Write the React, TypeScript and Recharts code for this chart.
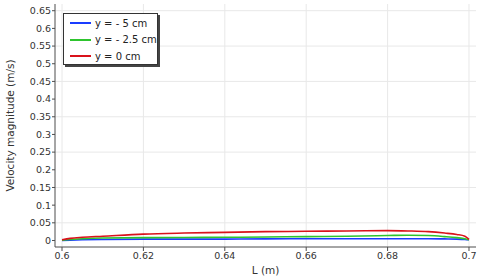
import React from 'react';
import { LineChart, Line, XAxis, YAxis, CartesianGrid } from 'recharts';

// Position along the line (m)
const positions = [0.6, 0.602, 0.605, 0.61, 0.62, 0.63, 0.64, 0.65, 0.66, 0.67, 0.68, 0.685, 0.69, 0.694, 0.697, 0.699, 0.7];

// Velocity magnitude (m/s) for each line
const yMinus5 = [0.0, 0.001, 0.002, 0.003, 0.004, 0.004, 0.004, 0.0045, 0.005, 0.005, 0.005, 0.005, 0.005, 0.0045, 0.004, 0.003, 0.002];
const yMinus25 = [0.001, 0.003, 0.005, 0.007, 0.008, 0.0085, 0.009, 0.01, 0.011, 0.012, 0.014, 0.015, 0.014, 0.011, 0.008, 0.005, 0.002];
const y0 = [0.002, 0.006, 0.009, 0.012, 0.018, 0.021, 0.023, 0.025, 0.026, 0.027, 0.028, 0.027, 0.025, 0.021, 0.017, 0.012, 0.003];

const seriesNames = ['y = - 5 cm', 'y = - 2.5 cm', 'y = 0 cm'];
const seriesColors = ['#1a3cff', '#2ec42e', '#d9121b'];

const xTicks = [0.6, 0.62, 0.64, 0.66, 0.68, 0.7];
const yTicks = [0, 0.05, 0.1, 0.15, 0.2, 0.25, 0.3, 0.35, 0.4, 0.45, 0.5, 0.55, 0.6, 0.65];

const data = positions.map((L, i) => ({
  L,
  s0: yMinus5[i],
  s1: yMinus25[i],
  s2: y0[i],
}));

const font = 'DejaVu Sans, sans-serif';
const axisColor = '#4d4d4d';
const tickStyle = { fontSize: 9.5, fill: '#333', fontFamily: font };

const App: React.FC = () => {
  return (
    <div style={{ position: 'absolute', left: 0, top: 0, width: 480, height: 276, background: '#fff' }}>
      <LineChart width={480} height={276} data={data} margin={{ top: 4, right: 4, bottom: 0, left: 0 }}>
        <CartesianGrid stroke="#e8e8e8" xAxisId="bottom" yAxisId="left" syncWithTicks />
        <XAxis
          xAxisId="bottom"
          type="number"
          dataKey="L"
          domain={[0.59828, 0.70172]}
          ticks={xTicks}
          allowDataOverflow
          stroke={axisColor}
          tickSize={4}
          tickMargin={1}
          tick={tickStyle}
          height={29}
          label={{ value: 'L (m)', position: 'insideBottom', offset: 2, style: { fontSize: 10.5, fill: '#333', fontFamily: font } }}
        />
        <XAxis
          xAxisId="top"
          orientation="top"
          type="number"
          dataKey="L"
          domain={[0.59828, 0.70172]}
          ticks={xTicks}
          allowDataOverflow
          stroke={axisColor}
          mirror
          tickSize={4}
          tickFormatter={() => ''}
          height={0}
        />
        <YAxis
          yAxisId="left"
          type="number"
          domain={[-0.0184, 0.669]}
          ticks={yTicks}
          allowDataOverflow
          stroke={axisColor}
          tickSize={3}
          tickMargin={1}
          tick={tickStyle}
          width={55}
          label={{ value: 'Velocity magnitude (m/s)', angle: -90, position: 'insideLeft', offset: 10, style: { fontSize: 10.5, fill: '#333', fontFamily: font, textAnchor: 'middle' } }}
        />
        <YAxis
          yAxisId="right"
          orientation="right"
          type="number"
          domain={[-0.0184, 0.669]}
          ticks={yTicks}
          allowDataOverflow
          stroke={axisColor}
          mirror
          tickSize={4}
          tickFormatter={() => ''}
          width={0}
        />
        {['s0', 's1', 's2'].map((key, i) => (
          <Line
            key={key}
            xAxisId="bottom"
            yAxisId="left"
            type="monotone"
            dataKey={key}
            name={seriesNames[i]}
            stroke={seriesColors[i]}
            strokeWidth={1.6}
            dot={false}
            isAnimationActive={false}
          />
        ))}
      </LineChart>
      <div
        style={{
          position: 'absolute',
          left: 63,
          top: 13,
          width: 95,
          height: 52,
          border: '1px solid #333',
          background: '#fff',
          boxShadow: '2px 2px 0 #444',
          fontFamily: font,
          fontSize: 10,
          color: '#222',
          boxSizing: 'border-box',
        }}
      >
        {seriesNames.map((name, i) => (
          <div key={name} style={{ position: 'absolute', left: 6, top: 1 + i * 16.5, height: 16, display: 'flex', alignItems: 'center', whiteSpace: 'nowrap' }}>
            <span style={{ display: 'inline-block', width: 21, height: 2, background: seriesColors[i], marginRight: 4 }} />
            <span>{name}</span>
          </div>
        ))}
      </div>
    </div>
  );
};

export default App;
